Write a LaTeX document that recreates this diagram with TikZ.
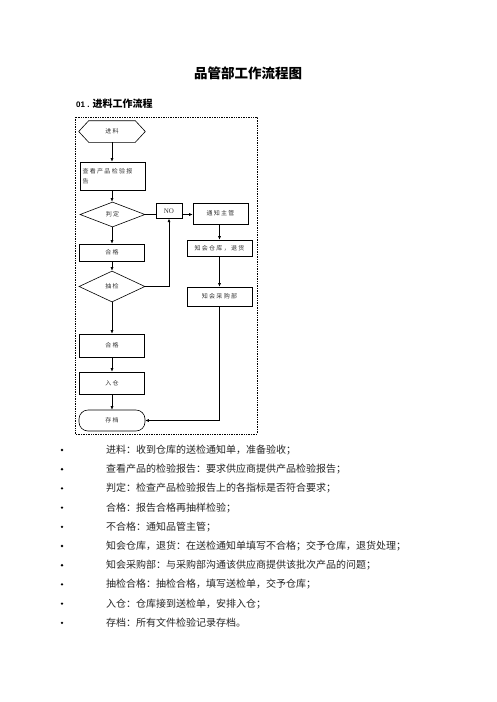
\documentclass[tikz,border=0pt]{standalone}
\usepackage{fontspec}
\setmainfont{Liberation Serif}
\newfontfamily\cjk{Noto Sans CJK SC}
\newfontfamily\cjkchart[LetterSpace=22]{Noto Sans CJK SC}
\newfontfamily\arialf{Liberation Sans}
\usetikzlibrary{shapes.geometric,arrows.meta,calc}
\begin{document}
\begin{tikzpicture}[x=1pt,y=-1pt,
  ln/.style={line width=0.6pt, draw=black},
  arr/.style={ln, -{Latex[length=3.5pt,width=3pt]}},
  pbox/.style={draw=black, line width=0.6pt, rectangle, inner sep=1pt,
    font=\cjkchart\fontsize{6}{10.5}\selectfont, text=black!80},
  pdiam/.style={draw=black, line width=0.6pt, diamond, inner sep=0pt,
    font=\cjkchart\fontsize{6}{10.5}\selectfont, text=black!80},
  btext/.style={anchor=west, inner sep=0pt, font=\cjk\fontsize{10}{12}\selectfont, text=black!85},
  bdot/.style={circle, fill=black, inner sep=0pt, minimum size=2.6pt}
]
\useasboundingbox (0,0) rectangle (496,702);
\fill[white] (0,0) rectangle (496,702);

% title
\node[font=\cjk\bfseries\fontsize{13.5}{16}\selectfont] (title) at (248,73) {品管部工作流程图};
\node[anchor=west, inner sep=0pt] (sub) at (76,104)
  {{\arialf\bfseries\fontsize{8}{10}\selectfont 01 . }{\cjk\bfseries\fontsize{10}{12}\selectfont 进料工作流程}};

% frame
\draw[line width=0.8pt, dash pattern=on 0.8pt off 0.9pt] (75,117) rectangle (257,434);

% left column
\node[pbox, draw=none, minimum width=66pt, minimum height=21pt] (jl) at (112,131.5) {进料};
\draw[ln] (jl.west) -- ($(jl.north west)+(10,0)$) -- ($(jl.north east)+(-10,0)$) -- (jl.east)
  -- ($(jl.south east)+(-10,0)$) -- ($(jl.south west)+(10,0)$) -- cycle;
\node[pbox, minimum width=65pt, minimum height=28pt, text width=60pt, align=left, inner sep=2.5pt] (ck) at (112.5,176) {查看产品检验报\\告};
\node[pdiam, minimum width=65pt, minimum height=25pt] (pd) at (112.5,214.5) {判定\hspace{9pt}};
\node[pbox, minimum width=65pt, minimum height=17pt] (hg) at (112,252.5) {合格};
\node[pdiam, minimum width=66pt, minimum height=31pt] (cj) at (112,286.5) {抽检\hspace{16pt}};
\node[pbox, minimum width=65pt, minimum height=23pt] (hg2) at (112,345.5) {合格};
\node[pbox, minimum width=65pt, minimum height=22pt] (rc) at (112,383) {入仓};
\node[pbox, minimum width=66pt, minimum height=21pt, rounded corners=9pt] (cd) at (112,420.5) {存档};

% right column
\node[pbox, minimum width=26pt, minimum height=15pt, font=\fontsize{7}{8}\selectfont] (no) at (169,210.8) {NO};
\node[pbox, minimum width=55pt, minimum height=21pt] (tz) at (220.5,213.5) {通知主管};
\node[pbox, minimum width=65pt, minimum height=16pt] (zk) at (219.5,248) {知会仓库，退货};
\node[pbox, minimum width=65pt, minimum height=19pt] (cg) at (219.5,296.5) {知会采购部};

% connectors
\draw[arr] (jl.south) -- (jl.south |- ck.north);
\draw[arr] (ck.south -| jl.south) -- (jl.south |- pd.north);
\draw[ln] (pd.east) -- (pd.east -| no.west);
\draw[arr] (no.east |- pd.east) -- (tz.west |- pd.east);
\draw[arr] (pd.south -| jl.south) -- (hg.north);
\draw[arr] (hg.south) -- (cj.north);
\draw[arr] (cj.east) -| (no.south);
\draw[arr] (cj.south) -- (hg2.north);
\draw[arr] (hg2.south) -- (rc.north);
\draw[arr] (rc.south) -- (cd.north);
\draw[arr] (tz.south -| 219.5,0) -- (zk.north);
\draw[arr] (zk.south) -- (cg.north);
\draw[arr] (cg.south) |- (cd.east);

% bullet list
\foreach \i/\t in {0/{进料：收到仓库的送检通知单，准备验收；},
  1/{查看产品的检验报告：要求供应商提供产品检验报告；},
  2/{判定：检查产品检验报告上的各指标是否符合要求；},
  3/{合格：报告合格再抽样检验；},
  4/{不合格：通知品管主管；},
  5/{知会仓库，退货：在送检通知单填写不合格；交予仓库，退货处理；},
  6/{知会采购部：与采购部沟通该供应商提供该批次产品的问题；},
  7/{抽检合格：抽检合格，填写送检单，交予仓库；},
  8/{入仓：仓库接到送检单，安排入仓；},
  9/{存档：所有文件检验记录存档。}}{
  \node[bdot] (d\i) at (62,{450+19.2*\i}) {};
  \node[btext] (b\i) at (106,{450+19.2*\i}) {\t};
}
\end{tikzpicture}
\end{document}
